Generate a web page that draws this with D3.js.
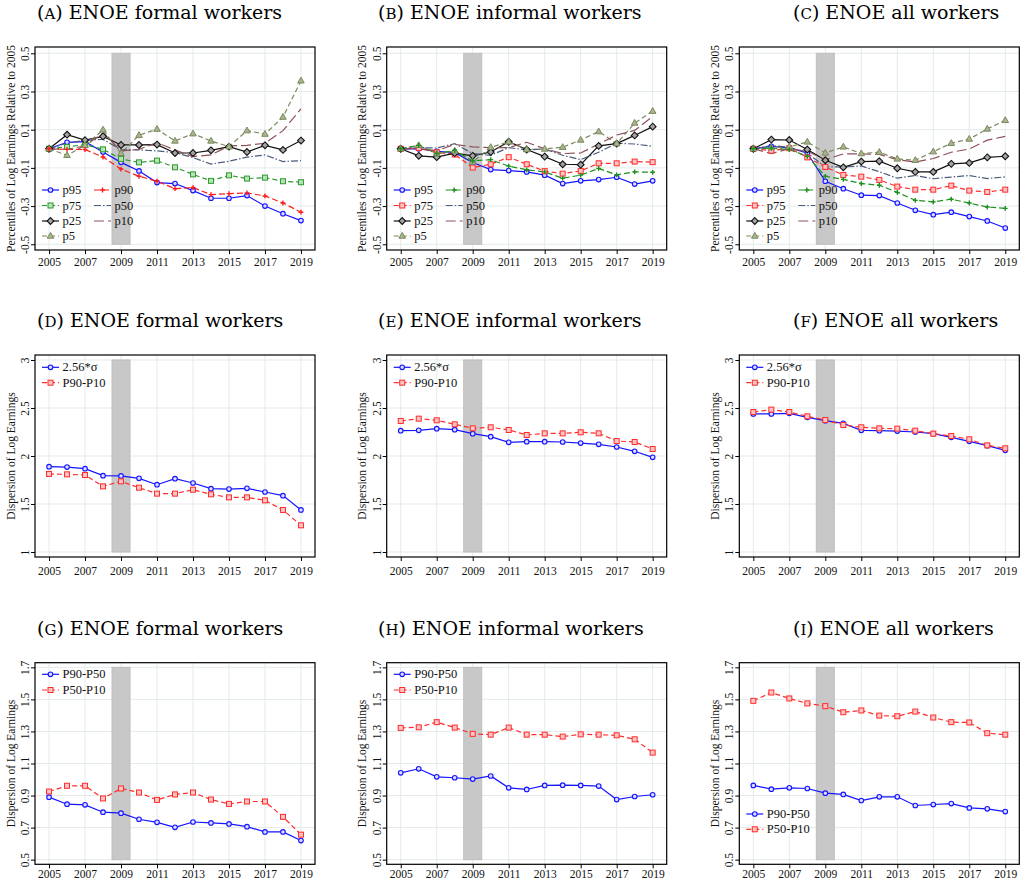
<!DOCTYPE html>
<html>
<head>
<meta charset="utf-8">
<script src="https://cdn.jsdelivr.net/npm/d3@7"></script>
<style>
  body { margin: 0; background: #fff; }
  svg { display: block; }
</style>
</head>
<body>
<svg id="fig" width="1026" height="884"></svg>
<script>
// ---------- data ----------
const years = [2005, 2006, 2007, 2008, 2009, 2010, 2011, 2012, 2013, 2014, 2015, 2016, 2017, 2018, 2019];
const xTicks = [2005, 2007, 2009, 2011, 2013, 2015, 2017, 2019];
const pctTicks = [-0.5, -0.3, -0.1, 0.1, 0.3, 0.5];
const dispTicks = [1, 1.5, 2, 2.5, 3];
const gapTicks = [0.5, 0.7, 0.9, 1.1, 1.3, 1.5, 1.7];
const recession = [2008.5, 2009.5];

// percentiles of log earnings relative to 2005 — formal workers
const formalP95 = [0, 0.034, 0.037, -0.017, -0.071, -0.116, -0.177, -0.182, -0.219, -0.259, -0.259, -0.245, -0.300, -0.340, -0.376];
const formalP90 = [0, -0.003, -0.004, -0.043, -0.106, -0.144, -0.170, -0.209, -0.203, -0.240, -0.235, -0.231, -0.247, -0.284, -0.332];
const formalP75 = [0, 0.010, 0.022, -0.003, -0.053, -0.071, -0.062, -0.097, -0.134, -0.168, -0.139, -0.156, -0.151, -0.170, -0.175];
const formalP50 = [0, 0.030, 0.044, 0.050, -0.006, -0.006, -0.011, -0.020, -0.046, -0.080, -0.065, -0.044, -0.032, -0.067, -0.062];
const formalP25 = [0, 0.074, 0.045, 0.065, 0.020, 0.020, 0.022, -0.022, -0.022, -0.008, 0.011, -0.017, 0.018, -0.006, 0.043];
const formalP10 = [0, -0.003, 0.015, 0.083, -0.011, -0.003, 0.032, -0.006, -0.041, -0.032, 0.015, 0.018, 0.029, 0.095, 0.209];
const formalP5  = [0, -0.034, 0.018, 0.099, -0.024, 0.071, 0.103, 0.041, 0.079, 0.041, 0.011, 0.095, 0.077, 0.166, 0.356];

// informal workers
const informalP95 = [0, 0.000, -0.013, -0.020, -0.072, -0.109, -0.114, -0.121, -0.138, -0.182, -0.168, -0.161, -0.149, -0.185, -0.168];
const informalP90 = [0, 0.018, -0.025, -0.008, -0.063, -0.057, -0.091, -0.110, -0.121, -0.154, -0.138, -0.103, -0.137, -0.121, -0.123];
const informalP75 = [0, 0.004, -0.018, -0.030, -0.098, -0.081, -0.044, -0.081, -0.117, -0.130, -0.116, -0.076, -0.076, -0.067, -0.070];
const informalP50 = [0, 0.006, 0.004, 0.027, -0.025, -0.034, 0.006, -0.006, -0.001, -0.034, -0.057, -0.018, 0.029, 0.025, 0.013];
const informalP25 = [0, -0.037, -0.044, -0.023, -0.037, -0.017, 0.037, -0.004, -0.041, -0.081, -0.083, 0.015, 0.027, 0.070, 0.116];
const informalP10 = [0, 0.000, -0.010, 0.023, 0.010, 0.006, 0.006, 0.034, 0.000, -0.025, -0.022, 0.025, 0.072, 0.096, 0.169];
const informalP5  = [0, 0.018, -0.025, -0.011, -0.069, 0.008, 0.036, -0.004, -0.001, 0.008, 0.046, 0.090, 0.027, 0.135, 0.197];

// all workers
const allP95 = [0, 0.013, 0.004, -0.022, -0.170, -0.209, -0.243, -0.245, -0.284, -0.322, -0.345, -0.332, -0.355, -0.378, -0.415];
const allP90 = [0, 0.004, -0.004, -0.039, -0.144, -0.160, -0.182, -0.191, -0.228, -0.270, -0.278, -0.264, -0.284, -0.305, -0.312];
const allP75 = [0, -0.010, 0.003, -0.045, -0.095, -0.137, -0.146, -0.163, -0.198, -0.214, -0.214, -0.193, -0.219, -0.226, -0.214];
const allP50 = [0, 0.017, 0.008, -0.022, -0.095, -0.095, -0.090, -0.120, -0.154, -0.140, -0.157, -0.148, -0.140, -0.156, -0.147];
const allP25 = [0, 0.048, 0.046, -0.004, -0.060, -0.097, -0.067, -0.065, -0.102, -0.121, -0.121, -0.079, -0.074, -0.045, -0.039];
const allP10 = [0, -0.025, 0.001, -0.013, -0.057, -0.027, -0.027, -0.030, -0.057, -0.069, -0.051, -0.018, -0.001, 0.045, 0.065];
const allP5  = [0, 0.006, 0.010, 0.036, -0.022, 0.010, -0.025, -0.018, -0.053, -0.060, -0.015, 0.029, 0.051, 0.104, 0.149];

// dispersion: 2.56*sigma and P90-P10
const formalSigma  = [1.889, 1.885, 1.868, 1.795, 1.792, 1.767, 1.701, 1.764, 1.719, 1.660, 1.656, 1.663, 1.625, 1.587, 1.438];
const formalP9010  = [1.813, 1.809, 1.802, 1.684, 1.736, 1.670, 1.608, 1.608, 1.649, 1.601, 1.569, 1.569, 1.538, 1.438, 1.278];
const informalSigma = [2.264, 2.267, 2.285, 2.274, 2.233, 2.201, 2.142, 2.149, 2.149, 2.146, 2.135, 2.122, 2.094, 2.049, 1.986];
const informalP9010 = [2.365, 2.389, 2.372, 2.330, 2.288, 2.299, 2.271, 2.219, 2.236, 2.236, 2.247, 2.236, 2.156, 2.146, 2.073];
const allSigma  = [2.438, 2.438, 2.444, 2.403, 2.368, 2.340, 2.267, 2.264, 2.260, 2.250, 2.233, 2.194, 2.153, 2.108, 2.059];
const allP9010  = [2.458, 2.483, 2.458, 2.413, 2.375, 2.323, 2.299, 2.288, 2.285, 2.264, 2.233, 2.208, 2.174, 2.111, 2.080];

// dispersion: P90-P50 and P50-P10
const formalP9050  = [0.890, 0.846, 0.842, 0.796, 0.790, 0.752, 0.733, 0.702, 0.735, 0.729, 0.723, 0.706, 0.673, 0.673, 0.619];
const formalP5010  = [0.925, 0.961, 0.961, 0.882, 0.944, 0.919, 0.873, 0.907, 0.919, 0.875, 0.848, 0.863, 0.863, 0.767, 0.656];
const informalP9050 = [1.042, 1.067, 1.017, 1.011, 1.003, 1.022, 0.948, 0.938, 0.963, 0.965, 0.963, 0.959, 0.875, 0.894, 0.905];
const informalP5010 = [1.322, 1.326, 1.358, 1.324, 1.285, 1.280, 1.324, 1.280, 1.280, 1.268, 1.282, 1.280, 1.276, 1.251, 1.168];
const allP9050  = [0.963, 0.940, 0.948, 0.944, 0.915, 0.907, 0.869, 0.892, 0.892, 0.838, 0.844, 0.850, 0.823, 0.817, 0.800];
const allP5010  = [1.491, 1.543, 1.506, 1.475, 1.458, 1.420, 1.431, 1.399, 1.395, 1.424, 1.387, 1.358, 1.356, 1.289, 1.280];

// ---------- styles ----------
const SERIF = '"Liberation Serif","Times New Roman",Times,serif';
const TITLE_FONT = '"DejaVu Serif",Georgia,serif';
const GRID = '#e4ebeb';

const STY = {
  p95:  { color: '#1414ff', dash: null,        marker: 'circle',   fill: '#dcdcff' },
  p75g: { color: '#2e9a2e', dash: '5,3',       marker: 'square',   fill: '#b8e2b8' },
  p75r: { color: '#ff2c2c', dash: '5,3',       marker: 'square',   fill: '#ffc4c4' },
  p90r: { color: '#ff1c1c', dash: '6,3',       marker: 'plus' },
  p90g: { color: '#1e901e', dash: '6,3',       marker: 'plus' },
  p25:  { color: '#111111', dash: null,        marker: 'diamond',  fill: '#a4a4a4' },
  p5:   { color: '#7b8a5e', dash: '5,3',       marker: 'triangle', fill: '#a9b48f' },
  p50:  { color: '#4c5c7d', dash: '7,2,1.5,2', marker: null },
  p10:  { color: '#8e5058', dash: '10,4',      marker: null },
  sig:  { color: '#1414ff', dash: null,        marker: 'circle',   fill: '#dcdcff' },
  gap:  { color: '#ff2c2c', dash: '5,3',       marker: 'square',   fill: '#ffc4c4' }
};

// ---------- layout ----------
const colLeft = [35, 386.7, 739.3];
const plotW = 280;
const titleX = [37, 378, 793];

const rows = [
  { top: 47,    bottom: 250,   domain: [-0.53, 0.533], ticks: pctTicks,  band: [-0.5, 0.5],
    ytitle: 'Percentiles of Log Earnings Relative to 2005', titleY: 19, labelY: 266 },
  { top: 355,   bottom: 557,   domain: [0.948, 3.052], ticks: dispTicks, band: [1, 3],
    ytitle: 'Dispersion of Log Earnings', titleY: 327, labelY: 575 },
  { top: 662.7, bottom: 864.3, domain: [0.471, 1.729], ticks: gapTicks,  band: [0.5, 1.7],
    ytitle: 'Dispersion of Log Earnings', titleY: 635, labelY: 878 }
];

const pctLegend = { rows: [143, 158.5, 174, 189], cols: [[0, 1, 2, 3], [4, 5, 6]] };

const panels = [
  { row: 0, col: 0, letter: 'A', name: 'ENOE formal workers',
    series: [['p95', formalP95, 'p95'], ['p75', formalP75, 'p75g'], ['p25', formalP25, 'p25'], ['p5', formalP5, 'p5'],
             ['p90', formalP90, 'p90r'], ['p50', formalP50, 'p50'], ['p10', formalP10, 'p10']],
    legend: pctLegend },
  { row: 0, col: 1, letter: 'B', name: 'ENOE informal workers',
    series: [['p95', informalP95, 'p95'], ['p75', informalP75, 'p75r'], ['p25', informalP25, 'p25'], ['p5', informalP5, 'p5'],
             ['p90', informalP90, 'p90g'], ['p50', informalP50, 'p50'], ['p10', informalP10, 'p10']],
    legend: pctLegend },
  { row: 0, col: 2, letter: 'C', name: 'ENOE all workers',
    series: [['p95', allP95, 'p95'], ['p75', allP75, 'p75r'], ['p25', allP25, 'p25'], ['p5', allP5, 'p5'],
             ['p90', allP90, 'p90g'], ['p50', allP50, 'p50'], ['p10', allP10, 'p10']],
    legend: pctLegend },
  { row: 1, col: 0, letter: 'D', name: 'ENOE formal workers',
    series: [['2.56*σ', formalSigma, 'sig'], ['P90-P10', formalP9010, 'gap']],
    legend: { rows: [12.3, 27.7], cols: [[0, 1]] } },
  { row: 1, col: 1, letter: 'E', name: 'ENOE informal workers',
    series: [['2.56*σ', informalSigma, 'sig'], ['P90-P10', informalP9010, 'gap']],
    legend: { rows: [12.3, 27.7], cols: [[0, 1]] } },
  { row: 1, col: 2, letter: 'F', name: 'ENOE all workers',
    series: [['2.56*σ', allSigma, 'sig'], ['P90-P10', allP9010, 'gap']],
    legend: { rows: [12.3, 27.7], cols: [[0, 1]] } },
  { row: 2, col: 0, letter: 'G', name: 'ENOE formal workers',
    series: [['P90-P50', formalP9050, 'sig'], ['P50-P10', formalP5010, 'gap']],
    legend: { rows: [11.6, 27.3], cols: [[0, 1]] } },
  { row: 2, col: 1, letter: 'H', name: 'ENOE informal workers',
    series: [['P90-P50', informalP9050, 'sig'], ['P50-P10', informalP5010, 'gap']],
    legend: { rows: [11.6, 27.3], cols: [[0, 1]] } },
  { row: 2, col: 2, letter: 'I', name: 'ENOE all workers',
    series: [['P90-P50', allP9050, 'sig'], ['P50-P10', allP5010, 'gap']],
    legend: { rows: [151.3, 166.6], cols: [[0, 1]] } }
];

// ---------- marker shapes ----------
function drawMarker(g, kind, st, x, y) {
  if (!kind) return;
  if (kind === 'circle') {
    g.append('circle').attr('cx', x).attr('cy', y).attr('r', 2.3)
      .attr('fill', st.fill).attr('stroke', st.color).attr('stroke-width', 1.1);
  } else if (kind === 'square') {
    g.append('rect').attr('x', x - 2.5).attr('y', y - 2.5).attr('width', 5).attr('height', 5)
      .attr('fill', st.fill).attr('stroke', st.color).attr('stroke-width', 1);
  } else if (kind === 'diamond') {
    g.append('path').attr('d', `M${x},${y - 3.4}L${x + 3.4},${y}L${x},${y + 3.4}L${x - 3.4},${y}Z`)
      .attr('fill', st.fill).attr('stroke', st.color).attr('stroke-width', 1.1);
  } else if (kind === 'triangle') {
    g.append('path').attr('d', `M${x},${y - 3.6}L${x + 3.3},${y + 2.2}L${x - 3.3},${y + 2.2}Z`)
      .attr('fill', st.fill).attr('stroke', st.color).attr('stroke-width', 1);
  } else if (kind === 'plus') {
    g.append('path').attr('d', `M${x - 2.4},${y}H${x + 2.4}M${x},${y - 2.4}V${y + 2.4}`)
      .attr('stroke', st.color).attr('stroke-width', 1.4).attr('fill', 'none');
  }
}

// ---------- drawing ----------
const svg = d3.select('#fig');

panels.forEach(p => {
  const r = rows[p.row];
  const left = colLeft[p.col];
  const right = left + plotW;

  const x = d3.scaleLinear().domain([2005 - 0.78, 2019 + 0.78]).range([left, right]);
  const y = d3.scaleLinear().domain(r.domain).range([r.bottom, r.top]);

  const g = svg.append('g');

  // panel title with small-caps letter
  const t = g.append('text').attr('x', titleX[p.col]).attr('y', r.titleY)
    .attr('font-family', TITLE_FONT).attr('font-size', 19).attr('fill', '#000');
  t.append('tspan').text('(');
  t.append('tspan').attr('font-size', 15).text(p.letter);
  t.append('tspan').text(') ' + p.name);

  // grid
  g.append('g').selectAll('line').data(xTicks).join('line')
    .attr('x1', d => x(d)).attr('x2', d => x(d)).attr('y1', r.top).attr('y2', r.bottom)
    .attr('stroke', GRID).attr('stroke-width', 1);
  g.append('g').selectAll('line').data(r.ticks).join('line')
    .attr('x1', left).attr('x2', right).attr('y1', d => y(d)).attr('y2', d => y(d))
    .attr('stroke', GRID).attr('stroke-width', 1);

  // recession band
  g.append('rect')
    .attr('x', x(recession[0])).attr('width', x(recession[1]) - x(recession[0]))
    .attr('y', y(r.band[1])).attr('height', y(r.band[0]) - y(r.band[1]))
    .attr('fill', '#c8c8c8').attr('stroke', '#bdbdbd').attr('stroke-width', 1);

  // series lines
  const line = d3.line().x((d, i) => x(years[i])).y(d => y(d));
  p.series.forEach(([label, vals, key]) => {
    const st = STY[key];
    g.append('path').datum(vals).attr('d', line)
      .attr('fill', 'none').attr('stroke', st.color).attr('stroke-width', 1.2)
      .attr('stroke-dasharray', st.dash);
  });
  // markers
  p.series.forEach(([label, vals, key]) => {
    const st = STY[key];
    const mg = g.append('g');
    vals.forEach((v, i) => drawMarker(mg, st.marker, st, x(years[i]), y(v)));
  });

  // frame
  g.append('rect').attr('x', left).attr('y', r.top).attr('width', plotW).attr('height', r.bottom - r.top)
    .attr('fill', 'none').attr('stroke', '#000').attr('stroke-width', 1.2);

  // x axis
  const xa = g.append('g').attr('transform', `translate(0,${r.bottom})`)
    .call(d3.axisBottom(x).tickValues(xTicks).tickSize(4).tickFormat(d => String(d)));
  xa.select('.domain').remove();
  xa.selectAll('.tick line').attr('stroke', '#000');
  xa.selectAll('.tick text').attr('y', null).attr('dy', null)
    .attr('transform', `translate(0,${r.labelY - r.bottom})`)
    .attr('font-family', SERIF).attr('font-size', 11.5).attr('fill', '#111');

  // y axis with rotated labels
  const ya = g.append('g').attr('transform', `translate(${left},0)`)
    .call(d3.axisLeft(y).tickValues(r.ticks).tickSize(4).tickFormat(d => String(d)));
  ya.select('.domain').remove();
  ya.selectAll('.tick line').attr('stroke', '#000');
  ya.selectAll('.tick text').attr('x', null).attr('dy', null)
    .attr('text-anchor', 'middle').attr('transform', 'translate(-6,0) rotate(-90)')
    .attr('font-family', SERIF).attr('font-size', 11.5).attr('fill', '#111');

  // y title
  g.append('text')
    .attr('transform', `translate(${left - 20.5},${(r.top + r.bottom) / 2}) rotate(-90)`)
    .attr('text-anchor', 'middle').attr('font-family', SERIF).attr('font-size', 11.5).attr('fill', '#111')
    .text(r.ytitle);

  // legend
  const lg = g.append('g');
  const colOffsets = [[7, 24, 27.5], [59, 76, 79.5]];
  p.legend.cols.forEach((idxs, c) => {
    idxs.forEach((si, k) => {
      const [label, , key] = p.series[si];
      const st = STY[key];
      const ly = r.top + p.legend.rows[k];
      const [l0, l1, tx] = colOffsets[c];
      lg.append('line').attr('x1', left + l0).attr('x2', left + l1).attr('y1', ly).attr('y2', ly)
        .attr('stroke', st.color).attr('stroke-width', 1.2).attr('stroke-dasharray', st.dash);
      drawMarker(lg, st.marker, st, left + (l0 + l1) / 2, ly);
      lg.append('text').attr('x', left + tx).attr('y', ly + 4)
        .attr('font-family', SERIF).attr('font-size', 12.5).attr('fill', '#111').text(label);
    });
  });
});
</script>
</body>
</html>
